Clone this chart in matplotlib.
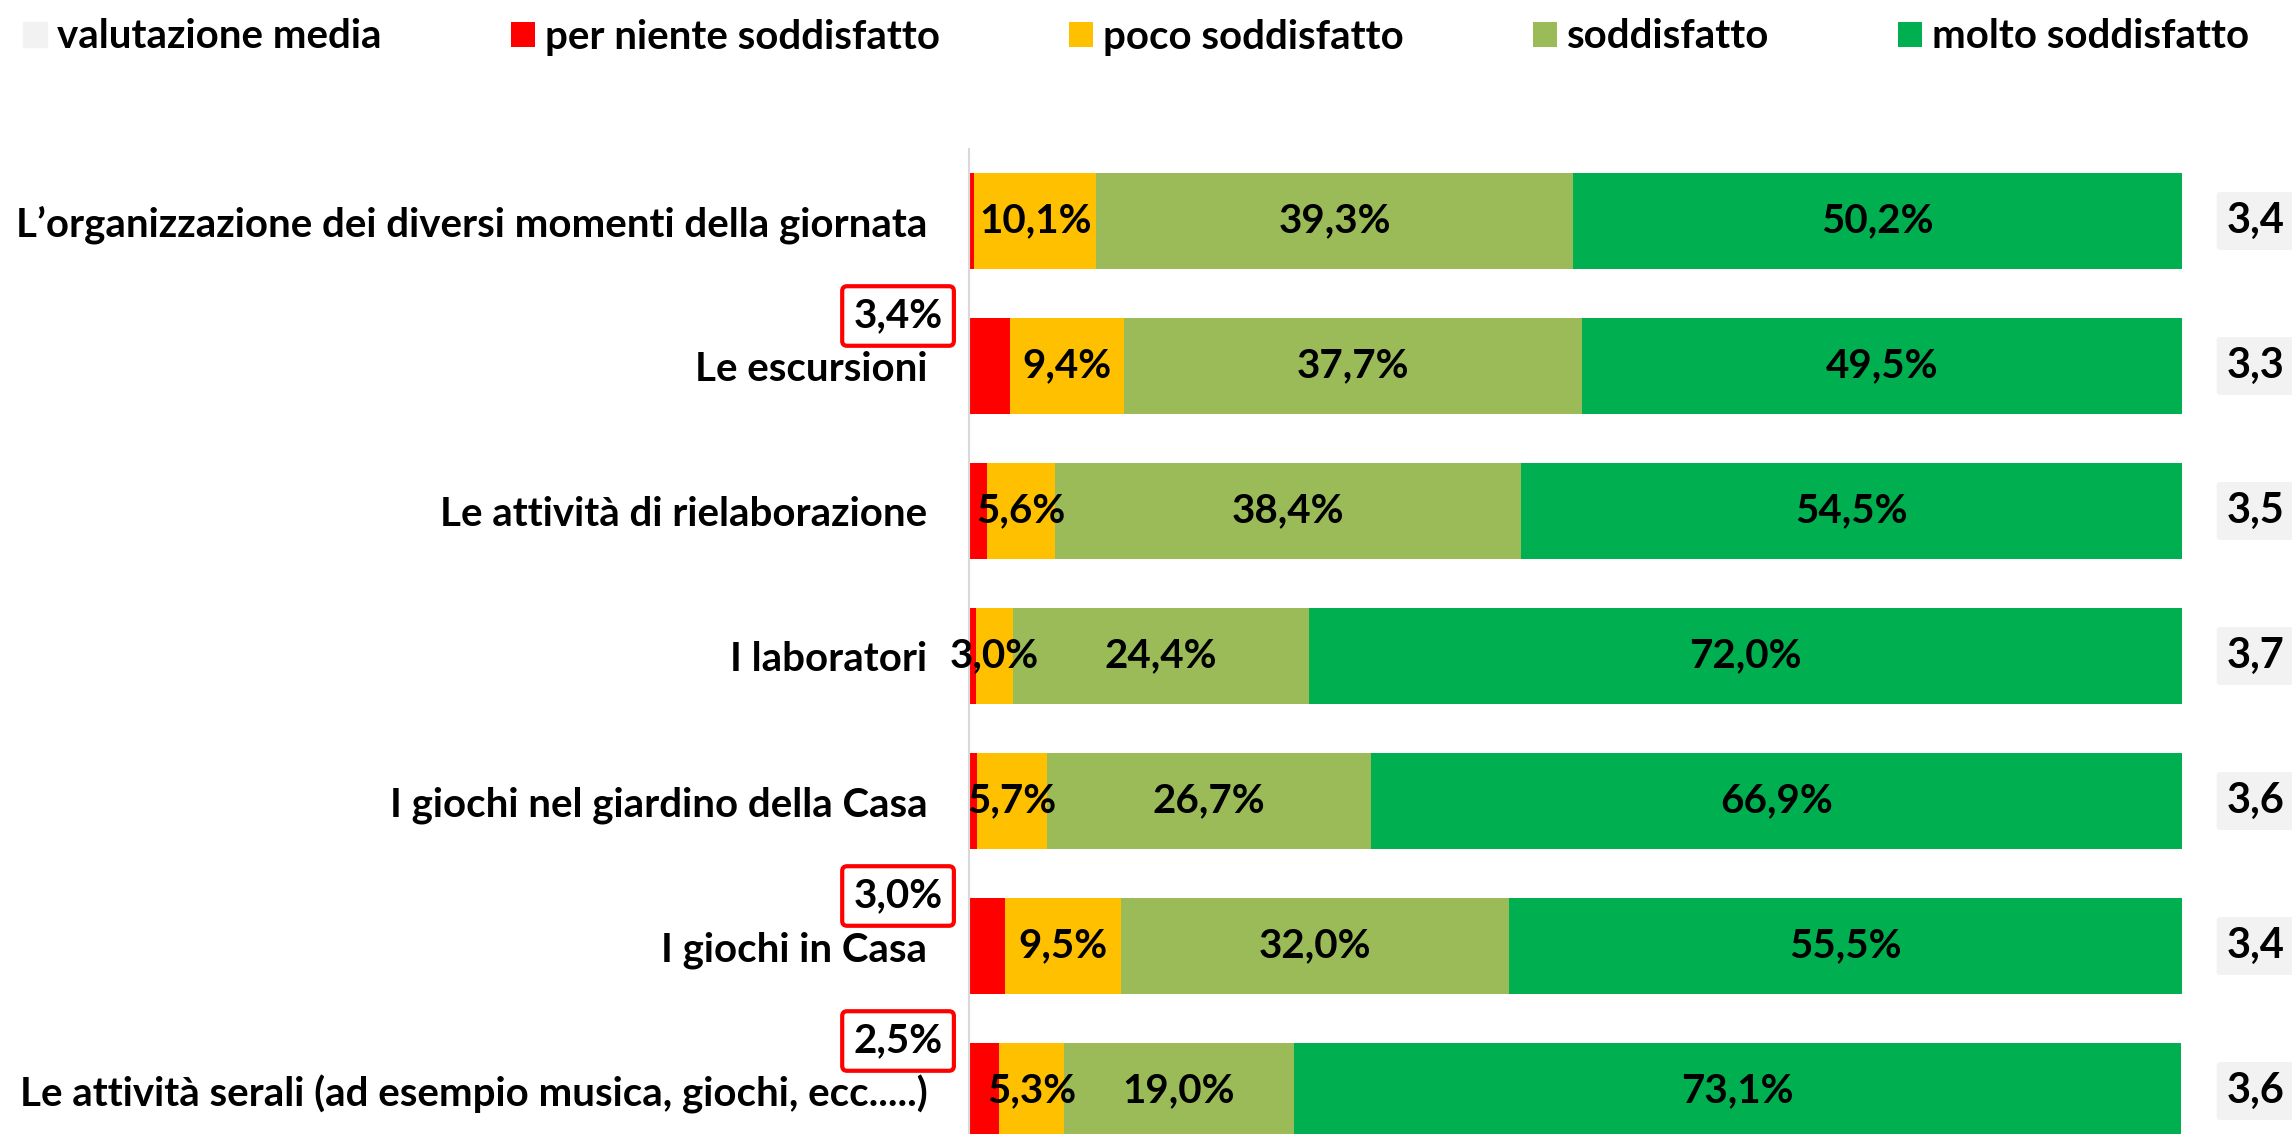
import matplotlib
matplotlib.use("Agg")
import matplotlib.pyplot as plt
from matplotlib.patches import Patch

plt.rcParams['font.family'] = ['Lato', 'DejaVu Sans']
plt.rcParams['font.weight'] = 'bold'

# dati (percentuali per riga, dall'alto verso il basso)
categories = [
    "L\u2019organizzazione dei diversi momenti della giornata",
    "Le escursioni",
    "Le attività di rielaborazione",
    "I laboratori",
    "I giochi nel giardino della Casa",
    "I giochi in Casa",
    "Le attività serali (ad esempio musica, giochi, ecc.....)",
]
per_niente = [0.4, 3.4, 1.5, 0.6, 0.7, 3.0, 2.5]
poco = [10.1, 9.4, 5.6, 3.0, 5.7, 9.5, 5.3]
soddisfatto = [39.3, 37.7, 38.4, 24.4, 26.7, 32.0, 19.0]
molto = [50.2, 49.5, 54.5, 72.0, 66.9, 55.5, 73.1]
media = [3.4, 3.3, 3.5, 3.7, 3.6, 3.4, 3.6]

series_names = ["per niente soddisfatto", "poco soddisfatto", "soddisfatto", "molto soddisfatto"]
colors = ["#FF0000", "#FFC000", "#9BBB59", "#00B050"]

FS = 29


def fmt(v, dec=1):
    return f"{v:.{dec}f}".replace(".", ",")


W, H = 2292, 1134
fig = plt.figure(figsize=(W / 100, H / 100), dpi=100)
ax = fig.add_axes([969 / W, 1 - 1163.5 / H, 1213 / W, 1015 / H])

y = list(range(len(categories)))
left = [0.0] * len(categories)
containers = []
for vals, name, col in zip([per_niente, poco, soddisfatto, molto], series_names, colors):
    bc = ax.barh(y, vals, left=left, height=0.66, color=col, label=name)
    containers.append(bc)
    left = [l + v for l, v in zip(left, vals)]

# etichette centrali (tranne "per niente")
for bc, vals in zip(containers[1:], [poco, soddisfatto, molto]):
    ax.bar_label(bc, labels=[fmt(v) + "%" for v in vals], label_type="center",
                 fontsize=FS, fontweight="bold", color="black")

# etichette "per niente" nei riquadri rossi
for i, v in enumerate(per_niente):
    if v >= 2:
        ax.annotate(fmt(v) + "%", xy=(0, i), xytext=(-19, 36), textcoords="offset points",
                    ha="right", va="center", fontsize=FS, fontweight="bold",
                    bbox=dict(boxstyle="round,pad=0.28,rounding_size=0.12",
                              fc="white", ec="#FF0000", lw=3))

# valutazione media a destra
for i, m in enumerate(media):
    ax.annotate(fmt(m), xy=(1, i), xycoords=("axes fraction", "data"),
                xytext=(53, 0), textcoords="offset points", ha="center", va="center",
                fontsize=FS + 1, fontweight="bold",
                bbox=dict(boxstyle="round,pad=0.24,rounding_size=0.08", fc="#F2F2F2", ec="none"),
                annotation_clip=False)

ax.set_xlim(0, 100)
ax.set_ylim(len(categories) - 0.5, -0.5)
ax.set_yticks(y)
ax.set_yticklabels(categories, fontsize=FS, fontweight="bold")
ax.tick_params(axis="y", length=0, pad=30)
ax.set_xticks([])
for s in ["top", "right", "bottom"]:
    ax.spines[s].set_visible(False)
ax.spines["left"].set_color("#D9D9D9")
ax.spines["left"].set_linewidth(1.5)

handles = [Patch(color="#F2F2F2")] + [c.patches[0] for c in containers]
labels = ["valutazione media"] + series_names
fig.legend(handles, labels, ncol=5, loc="center left", bbox_to_anchor=(23 / W, 1 - 37 / H),
           frameon=False, prop=dict(family=["Lato", "DejaVu Sans"], weight="bold", size=FS),
           handlelength=0.6, handleheight=0.6, handletextpad=0.25, columnspacing=3.2,
           borderpad=0, borderaxespad=0)

fig.savefig("out.png", dpi=100)
